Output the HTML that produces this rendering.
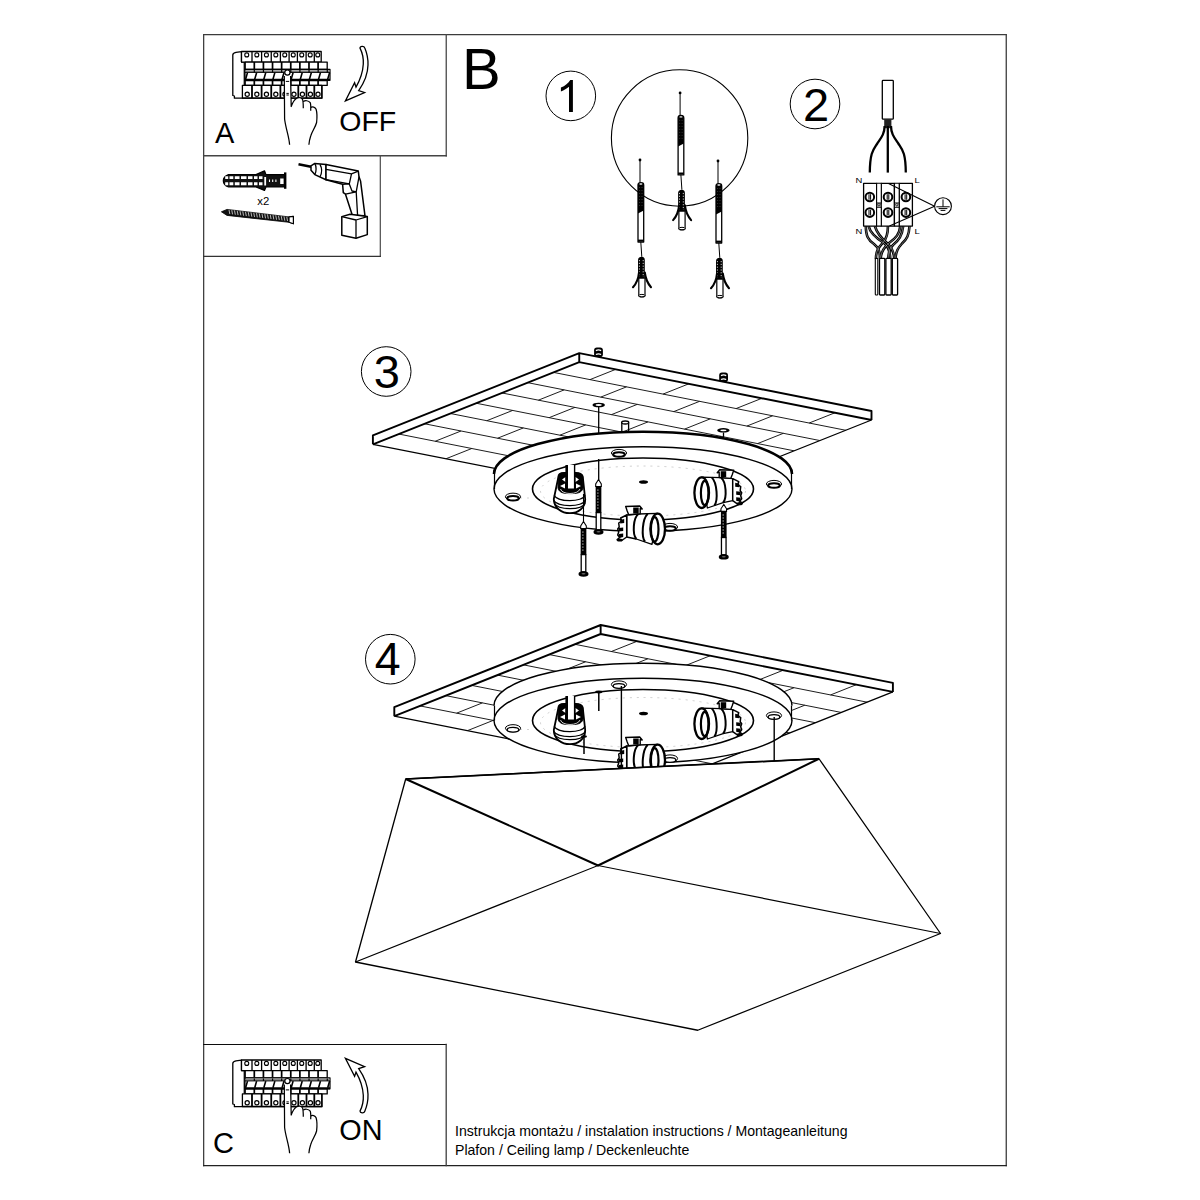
<!DOCTYPE html>
<html><head><meta charset="utf-8"><title>Instrukcja montażu</title>
<style>
html,body{margin:0;padding:0;background:#fff;width:1200px;height:1200px;overflow:hidden}
svg{display:block;position:absolute;left:0;top:0}
text{font-family:"Liberation Sans",sans-serif;fill:#000}
</style></head><body>
<svg width="1200" height="1200" viewBox="0 0 1200 1200">
<g fill="none" stroke-linecap="square">
<path d="M203.65,34.6V1165.6" stroke="#404040" stroke-width="1.3"/>
<path d="M203.65,34.65H1006.3" stroke="#3c3c3c" stroke-width="1.3"/>
<path d="M1006.27,34.65V1165.6" stroke="#444" stroke-width="1.35"/>
<path d="M203.65,1165.62H1006.27" stroke="#222" stroke-width="1.25"/>
<path d="M446.24,34.65V155.8" stroke="#484848" stroke-width="1.3"/>
<path d="M203.65,155.8H446.24" stroke="#444" stroke-width="1.4"/>
<path d="M380.3,155.8V256.4" stroke="#4a4a4a" stroke-width="1.2"/>
<path d="M203.65,256.4H380.3" stroke="#333" stroke-width="1.23"/>
<path d="M203.65,1044.5H446.2" stroke="#0c0c0c" stroke-width="1"/>
<path d="M446.2,1044.5V1165.6" stroke="#404040" stroke-width="1.32"/>
</g>
<text x="462" y="89.3" font-size="58">B</text>
<text x="214.9" y="142.9" font-size="29">A</text>
<text x="339.3" y="131" font-size="28.5">OFF</text>
<text x="213" y="1153" font-size="29">C</text>
<text x="339.3" y="1139.8" font-size="28.8">ON</text>
<text x="455" y="1135.8" font-size="14.1" fill="#111">Instrukcja montażu / instalation instructions / Montageanleitung</text>
<text x="455" y="1154.8" font-size="14.1" fill="#111">Plafon / Ceiling lamp / Deckenleuchte</text>
<g fill="none" stroke="#000" stroke-width="1">
<circle cx="570.8" cy="95.9" r="24.8"/>
<circle cx="815" cy="104" r="24.8"/>
<circle cx="386.2" cy="371.5" r="24.8"/>
<circle cx="390.3" cy="659.2" r="24.8"/>
</g>
<path d="M569,111.9 L572.9,111.9 L572.9,80 L570.3,80 C568.5,83 565,86 560.9,87.6 L560.9,91.5 C564,90.3 567,88.6 569,86.8 Z" fill="#000"/>
<text x="816.1" y="120.5" font-size="47" text-anchor="middle">2</text>
<text x="386.9" y="387.9" font-size="47" text-anchor="middle">3</text>
<text x="387.8" y="674.5" font-size="46.5" text-anchor="middle">4</text>
<g transform="translate(0 0)" stroke="#000" fill="#fff" stroke-linejoin="round">
<path d="M241.5,51.6 L236,52.4 C234,52.8 232.8,53.6 232.8,55 L232.8,95.5 L234.4,96 L234.4,98.2 L322,98.2 L322,85.4 L245,85.4 L245,62 L241.5,62 Z" stroke-width="1.3"/>
<path d="M244.2,62.5 V85" stroke-width="1.1" fill="none"/>
<rect x="241.5" y="51.5" width="79.7" height="10.6" stroke-width="1.3"/>
<path d="M252,51.5V62.1M261.6,51.5V62.1M271.25,51.5V62.1M280.4,51.5V62.1M289.1,51.5V62.1M297.4,51.5V62.1M306.1,51.5V62.1M314.3,51.5V62.1" stroke-width="1.3" fill="none"/>
<circle cx="246.75" cy="54.9" r="2" stroke-width="1.1"/>
<circle cx="256.8" cy="54.9" r="2" stroke-width="1.1"/>
<circle cx="266.43" cy="54.9" r="2" stroke-width="1.1"/>
<circle cx="275.82" cy="54.9" r="2" stroke-width="1.1"/>
<circle cx="284.75" cy="54.9" r="2" stroke-width="1.1"/>
<circle cx="293.25" cy="54.9" r="2" stroke-width="1.1"/>
<circle cx="301.75" cy="54.9" r="2" stroke-width="1.1"/>
<circle cx="310.2" cy="54.9" r="2" stroke-width="1.1"/>
<circle cx="317.75" cy="54.9" r="2" stroke-width="1.1"/>
<rect x="245.2" y="62.1" width="82" height="7.2" stroke-width="1.3"/>
<path d="M254.31,62.1V69.3M263.42,62.1V69.3M272.53,62.1V69.3M281.64,62.1V69.3M290.76,62.1V69.3M299.87,62.1V69.3M308.98,62.1V69.3M318.09,62.1V69.3" stroke-width="1.7" fill="none"/>
<rect x="245" y="69.3" width="85" height="11" stroke-width="1.2"/>
<rect x="246" y="70.3" width="83.5" height="1.9" fill="#888" stroke="none"/>
<path d="M245,72.4 H330" stroke-width="1" fill="none"/>
<path d="M245,79.7 H330" stroke-width="1.9" fill="none"/>
<path d="M245.6,79.2 L247.5,72.6 M254.72,79.2 L256.62,72.6 M263.84,79.2 L265.74,72.6 M272.96,79.2 L274.86,72.6 M282.08,79.2 L283.98,72.6 M291.2,79.2 L293.1,72.6 M300.32,79.2 L302.22,72.6 M309.44,79.2 L311.34,72.6 M318.56,79.2 L320.46,72.6 M327.68,79.2 L329.58,72.6 " stroke-width="1.6" fill="none"/>
<path d="M254.32,70V72.4M263.44,70V72.4M272.56,70V72.4M281.68,70V72.4M290.8,70V72.4M299.92,70V72.4M309.04,70V72.4M318.16,70V72.4M327.28,70V72.4" stroke-width="1.2" fill="none"/>
<rect x="245.2" y="80.5" width="82" height="4.9" stroke-width="1.3"/>
<path d="M254.31,80.5V85.4M263.42,80.5V85.4M272.53,80.5V85.4M281.64,80.5V85.4M290.76,80.5V85.4M299.87,80.5V85.4M308.98,80.5V85.4M318.09,80.5V85.4" stroke-width="1.7" fill="none"/>
<rect x="242.4" y="85.4" width="79.3" height="12.6" stroke-width="1.3"/>
<path d="M252,85.4V98M261.6,85.4V98M271.25,85.4V98M280.4,85.4V98M289.6,85.4V98M298.3,85.4V98M306.5,85.4V98M314.3,85.4V98" stroke-width="1.8" fill="none"/>
<circle cx="247.2" cy="94.2" r="2.1" stroke-width="1.2"/>
<circle cx="256.8" cy="94.2" r="2.1" stroke-width="1.2"/>
<circle cx="266.43" cy="94.2" r="2.1" stroke-width="1.2"/>
<circle cx="275.82" cy="94.2" r="2.1" stroke-width="1.2"/>
<circle cx="285" cy="94.2" r="2.1" stroke-width="1.2"/>
<circle cx="293.95" cy="94.2" r="2.1" stroke-width="1.2"/>
<circle cx="302.4" cy="94.2" r="2.1" stroke-width="1.2"/>
<circle cx="310.4" cy="94.2" r="2.1" stroke-width="1.2"/>
<circle cx="318" cy="94.2" r="2.1" stroke-width="1.2"/>
<path d="M289.6,144.8 C289.2,137 285.6,128 284.6,119 L284.3,76 L290.6,76 L291.2,106.5 C292.5,103 294.3,100 296.3,98.6 C298.4,97.2 301.6,97.4 302.6,99.6 C304.2,100.6 308.4,100.3 310.2,102.6 C311,104 311,105.8 310.9,107.4 C312.4,106.4 315.2,107 316.1,109.3 C317.2,113 317,119 316.6,122.5 C315.5,127 312.2,131 310.7,136 C309.7,139 309.1,142 308.9,144.8 L289.6,144.8 Z" stroke="none" fill="#fff"/>
<path d="M289.6,144.8 C289.2,137 285.6,128 284.6,119 L284.3,76 M290.6,76 L291.2,106.5 C292.5,103 294.3,100 296.3,98.6 C298.4,97.2 301.6,97.4 302.6,99.6 C303.2,101.5 303.3,105 303.3,108.3 M303.5,101.6 C304.8,100.3 308.4,100.3 310.2,102.6 C311,104.5 310.8,108 310.7,110.8 M310.9,107.4 C312.4,106.4 315.2,107 316.1,109.3 C317.2,113 317,119 316.6,122.5 C315.5,127 312.2,131 310.7,136 C309.7,139 309.1,142 308.9,144.8" stroke-width="1.25" fill="none"/>
<path d="M285.8,81.4 H289.2 M286.4,93.4 H288.8 M286.4,95 H288.8" stroke-width="1" fill="none"/>
<circle cx="287.4" cy="72.6" r="2.6" stroke-width="1.2"/>
</g>
<g transform="translate(0 1008.5)" stroke="#000" fill="#fff" stroke-linejoin="round">
<path d="M241.5,51.6 L236,52.4 C234,52.8 232.8,53.6 232.8,55 L232.8,95.5 L234.4,96 L234.4,98.2 L322,98.2 L322,85.4 L245,85.4 L245,62 L241.5,62 Z" stroke-width="1.3"/>
<path d="M244.2,62.5 V85" stroke-width="1.1" fill="none"/>
<rect x="241.5" y="51.5" width="79.7" height="10.6" stroke-width="1.3"/>
<path d="M252,51.5V62.1M261.6,51.5V62.1M271.25,51.5V62.1M280.4,51.5V62.1M289.1,51.5V62.1M297.4,51.5V62.1M306.1,51.5V62.1M314.3,51.5V62.1" stroke-width="1.3" fill="none"/>
<circle cx="246.75" cy="54.9" r="2" stroke-width="1.1"/>
<circle cx="256.8" cy="54.9" r="2" stroke-width="1.1"/>
<circle cx="266.43" cy="54.9" r="2" stroke-width="1.1"/>
<circle cx="275.82" cy="54.9" r="2" stroke-width="1.1"/>
<circle cx="284.75" cy="54.9" r="2" stroke-width="1.1"/>
<circle cx="293.25" cy="54.9" r="2" stroke-width="1.1"/>
<circle cx="301.75" cy="54.9" r="2" stroke-width="1.1"/>
<circle cx="310.2" cy="54.9" r="2" stroke-width="1.1"/>
<circle cx="317.75" cy="54.9" r="2" stroke-width="1.1"/>
<rect x="245.2" y="62.1" width="82" height="7.2" stroke-width="1.3"/>
<path d="M254.31,62.1V69.3M263.42,62.1V69.3M272.53,62.1V69.3M281.64,62.1V69.3M290.76,62.1V69.3M299.87,62.1V69.3M308.98,62.1V69.3M318.09,62.1V69.3" stroke-width="1.7" fill="none"/>
<rect x="245" y="69.3" width="85" height="11" stroke-width="1.2"/>
<rect x="246" y="70.3" width="83.5" height="1.9" fill="#888" stroke="none"/>
<path d="M245,72.4 H330" stroke-width="1" fill="none"/>
<path d="M245,79.7 H330" stroke-width="1.9" fill="none"/>
<path d="M245.6,79.2 L247.5,72.6 M254.72,79.2 L256.62,72.6 M263.84,79.2 L265.74,72.6 M272.96,79.2 L274.86,72.6 M282.08,79.2 L283.98,72.6 M291.2,79.2 L293.1,72.6 M300.32,79.2 L302.22,72.6 M309.44,79.2 L311.34,72.6 M318.56,79.2 L320.46,72.6 M327.68,79.2 L329.58,72.6 " stroke-width="1.6" fill="none"/>
<path d="M254.32,70V72.4M263.44,70V72.4M272.56,70V72.4M281.68,70V72.4M290.8,70V72.4M299.92,70V72.4M309.04,70V72.4M318.16,70V72.4M327.28,70V72.4" stroke-width="1.2" fill="none"/>
<rect x="245.2" y="80.5" width="82" height="4.9" stroke-width="1.3"/>
<path d="M254.31,80.5V85.4M263.42,80.5V85.4M272.53,80.5V85.4M281.64,80.5V85.4M290.76,80.5V85.4M299.87,80.5V85.4M308.98,80.5V85.4M318.09,80.5V85.4" stroke-width="1.7" fill="none"/>
<rect x="242.4" y="85.4" width="79.3" height="12.6" stroke-width="1.3"/>
<path d="M252,85.4V98M261.6,85.4V98M271.25,85.4V98M280.4,85.4V98M289.6,85.4V98M298.3,85.4V98M306.5,85.4V98M314.3,85.4V98" stroke-width="1.8" fill="none"/>
<circle cx="247.2" cy="94.2" r="2.1" stroke-width="1.2"/>
<circle cx="256.8" cy="94.2" r="2.1" stroke-width="1.2"/>
<circle cx="266.43" cy="94.2" r="2.1" stroke-width="1.2"/>
<circle cx="275.82" cy="94.2" r="2.1" stroke-width="1.2"/>
<circle cx="285" cy="94.2" r="2.1" stroke-width="1.2"/>
<circle cx="293.95" cy="94.2" r="2.1" stroke-width="1.2"/>
<circle cx="302.4" cy="94.2" r="2.1" stroke-width="1.2"/>
<circle cx="310.4" cy="94.2" r="2.1" stroke-width="1.2"/>
<circle cx="318" cy="94.2" r="2.1" stroke-width="1.2"/>
<path d="M289.6,144.8 C289.2,137 285.6,128 284.6,119 L284.3,76 L290.6,76 L291.2,106.5 C292.5,103 294.3,100 296.3,98.6 C298.4,97.2 301.6,97.4 302.6,99.6 C304.2,100.6 308.4,100.3 310.2,102.6 C311,104 311,105.8 310.9,107.4 C312.4,106.4 315.2,107 316.1,109.3 C317.2,113 317,119 316.6,122.5 C315.5,127 312.2,131 310.7,136 C309.7,139 309.1,142 308.9,144.8 L289.6,144.8 Z" stroke="none" fill="#fff"/>
<path d="M289.6,144.8 C289.2,137 285.6,128 284.6,119 L284.3,76 M290.6,76 L291.2,106.5 C292.5,103 294.3,100 296.3,98.6 C298.4,97.2 301.6,97.4 302.6,99.6 C303.2,101.5 303.3,105 303.3,108.3 M303.5,101.6 C304.8,100.3 308.4,100.3 310.2,102.6 C311,104.5 310.8,108 310.7,110.8 M310.9,107.4 C312.4,106.4 315.2,107 316.1,109.3 C317.2,113 317,119 316.6,122.5 C315.5,127 312.2,131 310.7,136 C309.7,139 309.1,142 308.9,144.8" stroke-width="1.25" fill="none"/>
<path d="M285.8,81.4 H289.2 M286.4,93.4 H288.8 M286.4,95 H288.8" stroke-width="1" fill="none"/>
<circle cx="287.4" cy="72.6" r="2.6" stroke-width="1.2"/>
</g>
<path d="M360,48.1 C360,46 364,45.5 364.8,48 C366.5,52 368.2,58 368,65 C367.8,74 364,83 358.7,90.6 L364.6,92.5 L345.4,100.9 L354.6,82.8 L356,87.1 C359.5,81 362.8,73 363.3,64 C363.6,58 362,52 360,48.1 Z" fill="#fff" stroke="#000" stroke-width="1.3" stroke-linejoin="miter"/>
<path d="M360,48.1 C360,46 364,45.5 364.8,48 C366.5,52 368.2,58 368,65 C367.8,74 364,83 358.7,90.6 L364.6,92.5 L345.4,100.9 L354.6,82.8 L356,87.1 C359.5,81 362.8,73 363.3,64 C363.6,58 362,52 360,48.1 Z" transform="translate(0 1159.2) scale(1 -1)" fill="#fff" stroke="#000" stroke-width="1.3"/>
<g stroke="#000" stroke-linejoin="round">
<path d="M223.3,180.8 C223.3,178 225,175.8 228.5,174.6 L256,174.6 L264.5,170.8 L266,174.6 L284.8,174.6 L284.8,187 L266,187 L264.5,190.4 L256,187 L228.5,187 C225,185.8 223.3,183.6 223.3,180.8 Z" fill="#111" stroke-width="1.2"/>
<path d="M225.2,176.3 H228.2 V178.9 H225.2 Z M225.2,182.2 H228.2 V185.3 H225.2 Z M229.5,176.3 H233.3 V178.9 H229.5 Z M229.5,182.2 H233.3 V185.3 H229.5 Z M234.8,176.3 H239.5 V178.9 H234.8 Z M234.8,182.2 H239.5 V185.3 H234.8 Z M241,176.3 H246.5 V178.9 H241 Z M241,182.2 H246.5 V185.3 H241 Z M248,176.3 H252.5 V178.9 H248 Z M248,182.2 H252.5 V185.3 H248 Z M254,176.3 H257.5 V178.9 H254 Z M254,182.2 H257.5 V185.3 H254 Z M259,176.3 H262.5 V178.9 H259 Z M259,182.2 H262.5 V185.3 H259 Z " fill="#fff" stroke="none"/>
<path d="M264.3,177 H266.1 V185.6 H264.3 Z M280.2,178.5 H283.6 V184 H280.2 Z" fill="#fff" stroke="none"/>
<path d="M269.5,179.5 V182 M272.7,179.5 V182 M275.9,179.5 V182" stroke="#fff" stroke-width="1.1" fill="none"/>
<path d="M285.2,172.4 V188.8" stroke-width="2.4" fill="none"/>
<path d="M221.4,211.8 L227,209.4 L289,216.9 L293.4,216.3 L293.4,223.8 L289,222.3 L227,215.4 Z" fill="#111" stroke-width="0.8"/>
<path d="M289,216.9 L293.4,216.3 L293.4,223.8 L289,222.3 Z" fill="#fff" stroke-width="1.2"/>
<path d="M229,209.84 l0.8,4.2 M231.75,210.17 l0.8,4.2 M234.5,210.51 l0.8,4.2 M237.25,210.84 l0.8,4.2 M240,211.17 l0.8,4.2 M242.75,211.51 l0.8,4.2 M245.5,211.84 l0.8,4.2 M248.25,212.17 l0.8,4.2 M251,212.5 l0.8,4.2 M253.75,212.84 l0.8,4.2 M256.5,213.17 l0.8,4.2 M259.25,213.5 l0.8,4.2 M262,213.83 l0.8,4.2 M264.75,214.17 l0.8,4.2 M267.5,214.5 l0.8,4.2 M270.25,214.83 l0.8,4.2 M273,215.17 l0.8,4.2 M275.75,215.5 l0.8,4.2 M278.5,215.83 l0.8,4.2 M281.25,216.16 l0.8,4.2 M284,216.5 l0.8,4.2 M286.75,216.83 l0.8,4.2 " stroke="#fff" stroke-width="0.7" fill="none"/>
</g>
<text x="257.3" y="204.9" font-size="11.3" fill="#222">x2</text>
<g stroke="#000" fill="#fff" stroke-linejoin="round" stroke-width="1.5">
<path d="M298.5,164.3 L311,166.8" stroke-width="2.6" fill="none"/>
<path d="M311,165.8 L314.8,163.4 L326,164.6 L326,179.7 L314.8,174.6 L311,170.2 Z"/>
<path d="M314.8,163.6 C316.5,166 316.5,172 314.8,174.6 M320,164.4 C322,168 322,173 320,176.8" fill="none" stroke-width="1.3"/>
<path d="M326,164.6 L358.3,171.1 L359,176.8 L360.6,181.3 L365,215.8 L352.3,215.3 L345.5,194.2 L343.3,192.6 L342.6,184.3 L326,179.7 Z"/>
<path d="M326,169.3 L351.5,173.8 L358.3,171.1 M351.5,173.8 L349.3,183.9 L326,179.7 M349.3,183.9 L352,191 L356.2,191.8 L359,176.8 M345.5,194.2 L356.2,191.8 L357.6,215.6 M342.6,184.3 L349.3,183.9" fill="none" stroke-width="1.3"/>
<path d="M341.8,216.6 L350,214.3 L367.3,216.6 L367.3,234.6 L356,238.3 L341.8,235.3 Z"/>
<path d="M341.8,216.6 L356,220 L367.3,216.6 M356,220 V238.3" fill="none" stroke-width="1.3"/>
</g>
<circle cx="679.6" cy="138" r="68.2" fill="none" stroke="#000" stroke-width="1.1"/>
<g transform="translate(680.1 92.9)" stroke="#000" stroke-linejoin="round">
<circle cx="0" cy="0" r="1.4" fill="#000" stroke="none"/>
<path d="M0,0 V23" stroke-width="1" fill="none"/>
<path d="M-2,25 C-2,23 -1.2,22.6 0.8,22.6 C2.8,22.6 3.7,23 3.7,25 L3.7,82 L-2,82 Z" fill="#fff" stroke-width="1.3"/>
<path d="M-2,24.5 C-2,23 -1,22.7 0.8,22.7 C2.6,22.7 3.7,23 3.7,24.5 L3.7,50.5 L-2,53.5 Z" fill="#000" stroke="none"/>
<path d="M-2,80.6 H3.7" stroke-width="2" fill="none"/>
<ellipse cx="0.85" cy="24" rx="1.6" ry="0.7" fill="#fff" stroke="none"/>
<path d="M-0.4,27 V48 M2,27 V48" stroke="#555" stroke-width="0.6" stroke-dasharray="1 2" fill="none"/>
<path d="M0.8,82 L1.8,96.8" stroke-width="1" fill="none"/>
<path d="M-1.2,118 L-1.2,135.5 C-1.2,137.5 5,137.5 5,135.5 L5,118 Z" fill="#fff" stroke-width="1.2"/>
<ellipse cx="1.9" cy="135.6" rx="3" ry="1.2" fill="#fff" stroke-width="1"/>
<path d="M-2,118.5 L-2,100 C-2,97.5 0,96.8 1.6,96.8 C3.4,96.8 4.8,97.5 4.8,100 L4.8,118.5 Z" fill="#000" stroke="none"/>
<path d="M-0.6,100 V117 M3.2,100 V117" stroke="#fff" stroke-width="0.8" stroke-dasharray="1.2 1.6" fill="none"/>
<path d="M-1,112.5 C-1.6,119 -4,124 -7,127.2 M4.8,112.5 C5.6,119 8.2,124 11,127.2" fill="none" stroke-width="2.1" stroke-linecap="round"/>
</g>
<g transform="translate(640 160)" stroke="#000" stroke-linejoin="round">
<circle cx="0" cy="0" r="1.4" fill="#000" stroke="none"/>
<path d="M0,0 V23" stroke-width="1" fill="none"/>
<path d="M-2,25 C-2,23 -1.2,22.6 0.8,22.6 C2.8,22.6 3.7,23 3.7,25 L3.7,82 L-2,82 Z" fill="#fff" stroke-width="1.3"/>
<path d="M-2,24.5 C-2,23 -1,22.7 0.8,22.7 C2.6,22.7 3.7,23 3.7,24.5 L3.7,50.5 L-2,53.5 Z" fill="#000" stroke="none"/>
<path d="M-2,80.6 H3.7" stroke-width="2" fill="none"/>
<ellipse cx="0.85" cy="24" rx="1.6" ry="0.7" fill="#fff" stroke="none"/>
<path d="M-0.4,27 V48 M2,27 V48" stroke="#555" stroke-width="0.6" stroke-dasharray="1 2" fill="none"/>
<path d="M0.8,82 L1.8,96.8" stroke-width="1" fill="none"/>
<path d="M-1.2,118 L-1.2,135.5 C-1.2,137.5 5,137.5 5,135.5 L5,118 Z" fill="#fff" stroke-width="1.2"/>
<ellipse cx="1.9" cy="135.6" rx="3" ry="1.2" fill="#fff" stroke-width="1"/>
<path d="M-2,118.5 L-2,100 C-2,97.5 0,96.8 1.6,96.8 C3.4,96.8 4.8,97.5 4.8,100 L4.8,118.5 Z" fill="#000" stroke="none"/>
<path d="M-0.6,100 V117 M3.2,100 V117" stroke="#fff" stroke-width="0.8" stroke-dasharray="1.2 1.6" fill="none"/>
<path d="M-1,112.5 C-1.6,119 -4,124 -7,127.2 M4.8,112.5 C5.6,119 8.2,124 11,127.2" fill="none" stroke-width="2.1" stroke-linecap="round"/>
</g>
<g transform="translate(718 161)" stroke="#000" stroke-linejoin="round">
<circle cx="0" cy="0" r="1.4" fill="#000" stroke="none"/>
<path d="M0,0 V23" stroke-width="1" fill="none"/>
<path d="M-2,25 C-2,23 -1.2,22.6 0.8,22.6 C2.8,22.6 3.7,23 3.7,25 L3.7,82 L-2,82 Z" fill="#fff" stroke-width="1.3"/>
<path d="M-2,24.5 C-2,23 -1,22.7 0.8,22.7 C2.6,22.7 3.7,23 3.7,24.5 L3.7,50.5 L-2,53.5 Z" fill="#000" stroke="none"/>
<path d="M-2,80.6 H3.7" stroke-width="2" fill="none"/>
<ellipse cx="0.85" cy="24" rx="1.6" ry="0.7" fill="#fff" stroke="none"/>
<path d="M-0.4,27 V48 M2,27 V48" stroke="#555" stroke-width="0.6" stroke-dasharray="1 2" fill="none"/>
<path d="M0.8,82 L1.8,96.8" stroke-width="1" fill="none"/>
<path d="M-1.2,118 L-1.2,135.5 C-1.2,137.5 5,137.5 5,135.5 L5,118 Z" fill="#fff" stroke-width="1.2"/>
<ellipse cx="1.9" cy="135.6" rx="3" ry="1.2" fill="#fff" stroke-width="1"/>
<path d="M-2,118.5 L-2,100 C-2,97.5 0,96.8 1.6,96.8 C3.4,96.8 4.8,97.5 4.8,100 L4.8,118.5 Z" fill="#000" stroke="none"/>
<path d="M-0.6,100 V117 M3.2,100 V117" stroke="#fff" stroke-width="0.8" stroke-dasharray="1.2 1.6" fill="none"/>
<path d="M-1,112.5 C-1.6,119 -4,124 -7,127.2 M4.8,112.5 C5.6,119 8.2,124 11,127.2" fill="none" stroke-width="2.1" stroke-linecap="round"/>
</g>
<g stroke="#000" stroke-linejoin="round" fill="none">
<rect x="882.3" y="80.4" width="11" height="38.8" rx="0.8" fill="#fff" stroke-width="1.3"/>
<rect x="884.2" y="119.2" width="7.2" height="9" fill="#222" stroke="none"/>
<path d="M884.6,126 C884.6,134 881,138 877,144 C873,150 870,153 869.8,172.6" stroke-width="2.3"/>
<path d="M887.8,126 V172.6" stroke-width="2.3"/>
<path d="M891,126 C891,134 894.6,138 898.6,144 C902.6,150 905.6,153 905.8,172.6" stroke-width="2.3"/>
<path d="M865.8,226 C866,236 868,240 874,244 C879,248 880,252 879.9,259" stroke="#000" stroke-width="2.6"/>
<path d="M868.6,226 C870,233 876,238 884,243 C889,247 890,252 890.3,259" stroke="#000" stroke-width="2.6"/>
<path d="M874.8,226 C877,233 881,238 887,243 C892,248 894,252 894.3,259" stroke="#000" stroke-width="2.6"/>
<path d="M887.9,226 C888,233 887,238 883,242.5 C879,247 876,250 875.9,259" stroke="#000" stroke-width="2.6"/>
<path d="M900.3,226 C899.5,234 896,238 889,243 C885,246.5 881,251 880.6,259" stroke="#000" stroke-width="2.6"/>
<path d="M903.2,226 C902,236 899,240 893,245 C889,249 888.3,253 888.3,259" stroke="#000" stroke-width="2.6"/>
<path d="M909.5,226 C909,235 907,239 902,243.5 C898,248 896,251 895.4,259" stroke="#000" stroke-width="2.6"/>
<path d="M865.8,226 C866,236 868,240 874,244 C879,248 880,252 879.9,259" stroke="#fff" stroke-width="0.45" opacity="0.9"/>
<path d="M868.6,226 C870,233 876,238 884,243 C889,247 890,252 890.3,259" stroke="#fff" stroke-width="0.45" opacity="0.9"/>
<path d="M874.8,226 C877,233 881,238 887,243 C892,248 894,252 894.3,259" stroke="#fff" stroke-width="0.45" opacity="0.9"/>
<path d="M887.9,226 C888,233 887,238 883,242.5 C879,247 876,250 875.9,259" stroke="#fff" stroke-width="0.45" opacity="0.9"/>
<path d="M900.3,226 C899.5,234 896,238 889,243 C885,246.5 881,251 880.6,259" stroke="#fff" stroke-width="0.45" opacity="0.9"/>
<path d="M903.2,226 C902,236 899,240 893,245 C889,249 888.3,253 888.3,259" stroke="#fff" stroke-width="0.45" opacity="0.9"/>
<path d="M909.5,226 C909,235 907,239 902,243.5 C898,248 896,251 895.4,259" stroke="#fff" stroke-width="0.45" opacity="0.9"/>
<rect x="875.3" y="258.4" width="2.5" height="36.6" rx="0.8" fill="#fff" stroke-width="1.1"/>
<rect x="879.5" y="258.4" width="5.3" height="36.6" rx="0.8" fill="#fff" stroke-width="1.3"/>
<rect x="885.9" y="258.4" width="5.3" height="36.6" rx="0.8" fill="#fff" stroke-width="1.3"/>
<rect x="892.3" y="258.4" width="5.3" height="36.6" rx="0.8" fill="#fff" stroke-width="1.3"/>
<rect x="863.6" y="183.3" width="13.1" height="42.8" fill="#fff" stroke-width="1.3"/>
<rect x="881.2" y="183.3" width="13.1" height="42.8" fill="#fff" stroke-width="1.3"/>
<rect x="899.3" y="183.3" width="13.1" height="42.8" fill="#fff" stroke-width="1.3"/>
<rect x="876.6" y="183.3" width="4.7" height="19.7" fill="#fff" stroke-width="1.1"/>
<rect x="876.6" y="207.2" width="4.7" height="18.9" fill="#fff" stroke-width="1.1"/>
<circle cx="878.95" cy="204.8" r="1.2" fill="#fff" stroke-width="0.9"/>
<rect x="894.5" y="183.3" width="4.7" height="19.7" fill="#fff" stroke-width="1.1"/>
<rect x="894.5" y="207.2" width="4.7" height="18.9" fill="#fff" stroke-width="1.1"/>
<circle cx="896.85" cy="204.8" r="1.2" fill="#fff" stroke-width="0.9"/>
<circle cx="869.8" cy="197" r="4.3" fill="#fff" stroke-width="2"/>
<path d="M869,194.2 v5.6 M870.6,194.2 v5.6" stroke-width="1" />
<circle cx="869.8" cy="212.6" r="4.3" fill="#fff" stroke-width="2"/>
<path d="M869,209.8 v5.6 M870.6,209.8 v5.6" stroke-width="1" />
<circle cx="888" cy="197" r="4.3" fill="#fff" stroke-width="2"/>
<path d="M887.2,194.2 v5.6 M888.8,194.2 v5.6" stroke-width="1" />
<circle cx="888" cy="212.6" r="4.3" fill="#fff" stroke-width="2"/>
<path d="M887.2,209.8 v5.6 M888.8,209.8 v5.6" stroke-width="1" />
<circle cx="905.9" cy="197" r="4.3" fill="#fff" stroke-width="2"/>
<path d="M905.1,194.2 v5.6 M906.7,194.2 v5.6" stroke-width="1" />
<circle cx="905.9" cy="212.6" r="4.3" fill="#fff" stroke-width="2"/>
<path d="M905.1,209.8 v5.6 M906.7,209.8 v5.6" stroke-width="1" />
<path d="M888.5,183.5 L934.6,206.2 L889.4,226" stroke-width="1.1"/>
<circle cx="943" cy="206.2" r="8.4" fill="#fff" stroke-width="1.1"/>
<path d="M943,199.4 V206.8 M936.3,206.8 H949.7 M938.6,208.6 H947.4 M940.6,210.4 H945.4" stroke-width="1"/>
</g>
<g font-size="8" fill="#000">
<text transform="translate(855.6 182.5) scale(1.18 1)" x="0" y="0">N</text>
<text transform="translate(914.6 182.5) scale(1.18 1)" x="0" y="0">L</text>
<text transform="translate(855.6 234.3) scale(1.18 1)" x="0" y="0">N</text>
<text transform="translate(914.6 234.3) scale(1.18 1)" x="0" y="0">L</text>
</g>
<clipPath id="pc3"><polygon points="372.9,444.3 579.25,362.1 871.5,420 665.15,502.2"/></clipPath>
<polygon points="372.9,435.3 579.25,353.1 871.5,411 871.5,420 665.15,502.2 372.9,444.3" fill="#fff" stroke="none"/>
<path d="M392.85 432.87L696.79 493.08M418.64 422.59L722.58 482.81M444.44 412.32L748.38 472.53M470.23 402.04L774.17 462.26M496.02 391.77L799.96 451.98M521.82 381.49L825.76 441.71M547.61 371.22L851.55 431.43M445.96 458.77L471.76 448.5M519.02 473.25L544.82 462.98M592.09 487.73L617.88 477.45M435.22 441.26L461.02 430.99M508.29 455.74L534.08 445.46M581.35 470.21L607.14 459.94M654.41 484.69L680.21 474.41M497.55 438.22L523.34 427.95M570.61 452.7L596.41 442.43M643.67 467.18L669.47 456.9M486.81 420.71L512.61 410.44M559.88 435.19L585.67 424.91M632.94 449.66L658.73 439.39M706 464.14L731.79 453.86M549.14 417.67L574.93 407.4M622.2 432.15L647.99 421.88M695.26 446.62L721.06 436.35M538.4 400.16L564.19 389.89M611.46 414.64L637.26 404.36M684.52 429.11L710.32 418.84M757.59 443.59L783.38 433.31M600.73 397.12L626.52 386.85M673.79 411.6L699.58 401.33M746.85 426.08L772.64 415.8M589.99 379.61L615.78 369.34M663.05 394.09L688.84 383.81M736.11 408.56L761.91 398.29M809.17 423.04L834.97 412.76" clip-path="url(#pc3)" fill="none" stroke="#111" stroke-width="0.95"/>
<path d="M372.9,444.3 L665.15,502.2 L871.5,420" fill="none" stroke="#000" stroke-width="1.25"/>
<path d="M372.9,444.3 L372.9,435.3 L579.25,353.1 L871.5,411 L871.5,420 M372.9,444.3 L579.25,362.1 L871.5,420 M579.25,353.1 L579.25,362.1" fill="none" stroke="#000" stroke-width="1.9" stroke-linejoin="round"/>
<path d="M494 474 A149 42.3 0 0 1 792 474 L792 489 A149 42.3 0 0 1 494 489 Z" fill="#fff" stroke="none"/>
<path d="M494 474 A149 42.3 0 0 1 792 474" fill="none" stroke="#000" stroke-width="2.6"/>
<path d="M494.5 474V489 M791.5 474V489" fill="none" stroke="#000" stroke-width="1.2"/>
<ellipse cx="643" cy="489" rx="149" ry="42.3" fill="none" stroke="#000" stroke-width="1.4"/>
<ellipse cx="643" cy="489" rx="110.5" ry="31" fill="none" stroke="#000" stroke-width="1.6"/>
<ellipse cx="643" cy="491" rx="102.5" ry="25" fill="none" stroke="#b8b8b8" stroke-width="0.7" stroke-dasharray="2 5"/>
<path d="M513 498H532.5" stroke="#c0c0c0" stroke-width="0.7" stroke-dasharray="2 5"/>
<ellipse cx="643.5" cy="482" rx="4.5" ry="1.8" fill="#000"/>
<ellipse cx="513" cy="496.75" rx="7.6" ry="3.6" fill="#fff" stroke="#000" stroke-width="1"/>
<ellipse cx="513" cy="498.25" rx="5.8" ry="2.3" fill="#fff" stroke="#000" stroke-width="2"/>
<ellipse cx="774" cy="484" rx="7.6" ry="3.6" fill="#fff" stroke="#000" stroke-width="1"/>
<ellipse cx="774" cy="485.5" rx="5.8" ry="2.3" fill="#fff" stroke="#000" stroke-width="2"/>
<ellipse cx="619" cy="453" rx="7.6" ry="3.6" fill="#fff" stroke="#000" stroke-width="1"/>
<ellipse cx="619" cy="454.5" rx="5.8" ry="2.3" fill="#fff" stroke="#000" stroke-width="2"/>
<ellipse cx="670" cy="527" rx="7.6" ry="3.6" fill="#fff" stroke="#000" stroke-width="1"/>
<ellipse cx="670" cy="528.5" rx="5.8" ry="2.3" fill="#fff" stroke="#000" stroke-width="2"/>
<path d="M621.8,431 V423 M628.6,431 V423" stroke="#000" stroke-width="1.3" fill="none"/>
<ellipse cx="625.2" cy="422.5" rx="3.6" ry="1.5" fill="#fff" stroke="#000" stroke-width="1.3"/>
<ellipse cx="598.7" cy="405" rx="6.2" ry="2.3" fill="#000"/>
<ellipse cx="598.7" cy="405" rx="3.2" ry="0.9" fill="#fff"/>
<ellipse cx="723.4" cy="430.3" rx="6.2" ry="2.3" fill="#000"/>
<ellipse cx="723.4" cy="430.3" rx="3.2" ry="0.9" fill="#fff"/>
<path d="M598.7,407 V433.5 M598.7,459 V480 M723.5,432.5 V438" stroke="#000" stroke-width="1.3" fill="none"/>
<g transform="translate(570 492)" stroke="#000" stroke-linejoin="round">
<path d="M-11.6,-15 C-11.6,-18 -9,-19 -6,-19 L6,-19 C9,-19 12.8,-18 12.8,-15 L15.2,7 C15.4,16 8,21.2 -0.2,21.2 C-8,21.2 -16.4,16 -16.2,7 Z" fill="#fff" stroke-width="1.8"/>
<path d="M-15.8,3 C-13,10.5 13,10.5 15,3 M-16.2,8 C-13,15.5 13,15.5 15.2,8 M-15.8,11 C-12,18.5 12,18.5 15,11" fill="none" stroke-width="1.2"/>
<path d="M-11.6,-15 C-11.6,-18 -9,-19 -6,-19 L6,-19 C9,-19 12.8,-18 12.8,-15 L13,-4 C12,1.2 6,1.6 0.5,1.6 C-5,1.6 -11,1.2 -12,-4 Z" fill="#000" stroke-width="1"/>
<path d="M-8,-12.5 L-4.5,-15 L-4.5,-10 Z M9,-12.5 L5.5,-15 L5.5,-10 Z M-10,-6 L-5,-8.5 L-5,-3.5 Z M11,-6 L6,-8.5 L6,-3.5 Z" fill="#fff" stroke="none"/>
<path d="M-9.5,-3 C-8,3 8,3 10,-3" fill="none" stroke="#fff" stroke-width="0.8"/>
<rect x="-4.6" y="-27" width="9.9" height="25" fill="#000" stroke="none"/>
<rect x="-2" y="-27" width="5.9" height="23.5" fill="#fff" stroke="none"/>
</g>
<path d="M583.5,494 V522" stroke="#000" stroke-width="1.1" fill="none"/>
<g transform="translate(598.5 479.5)" stroke="#000">
<path d="M0,0 L2.8,4.4 L2.8,7 L-2.8,7 L-2.8,4.4 Z" fill="#fff" stroke-width="1.1"/>
<rect x="-2.85" y="6.9" width="5.7" height="26.2" fill="#000" stroke="none"/>
<path d="M-0.6,10 V31" stroke="#fff" stroke-width="0.9" stroke-dasharray="1.2 1.8" fill="none"/>
<rect x="-2.3" y="33.1" width="4.6" height="17.3" fill="#fff" stroke-width="1.3"/>
<ellipse cx="0" cy="52.5" rx="5" ry="2.7" fill="#000" stroke="none"/>
<ellipse cx="0" cy="52.3" rx="2" ry="0.8" fill="#666" stroke="none"/>
</g>
<g transform="translate(701.7 492.7) scale(-1 1)" stroke="#000" stroke-linejoin="round">
<path d="M0,-15.6 L-19.4,-15 L-31,-14 L-31,8 L-21.4,10 L-5.7,15.3 Z" fill="#fff" stroke-width="1.3"/>
<path d="M-31,-14 L-37,-11 L-36,-8 L-39,-6 L-38.5,-2 L-40,0 L-39,3 L-40,6 L-38,8.5 L-40.5,10.5 L-36,11.5 L-31,8 Z" fill="#fff" stroke-width="1.5"/>
<path d="M-37.5,-9 L-33.5,-10 L-33.5,-6 L-37.5,-5.5 Z M-39,-1 L-34.5,-1.5 L-34.5,2 L-39,2.5 Z M-39,5 L-34.5,4.5 L-34.5,8 L-38.5,9 Z" fill="#000" stroke="none"/>
<ellipse cx="-38" cy="11" rx="3" ry="1.6" fill="#000" stroke="none"/>
<path d="M-32,-22.5 L-18,-23 L-15.5,-20 L-17.5,-20.5 L-17.5,-15.2 L-29,-14.3 L-30.5,-18 Z" fill="#fff" stroke-width="1.4"/>
<rect x="-24.5" y="-21.5" width="5.5" height="6" fill="#000" stroke="none"/>
<path d="M-19.4,-15 C-24.5,-11 -25.5,5 -21.4,10" fill="none" stroke-width="2"/>
<path d="M-10,-15.3 C-15.5,-10 -16.5,8 -12.7,12.7" fill="none" stroke-width="2"/>
<ellipse cx="0" cy="0" rx="7.3" ry="15.3" fill="#fff" stroke-width="2.3"/>
<ellipse cx="-3" cy="0.3" rx="3.8" ry="12.2" fill="none" stroke-width="2.2"/>
</g>
<g transform="translate(657.7 529)" stroke="#000" stroke-linejoin="round">
<path d="M0,-15.6 L-19.4,-15 L-31,-14 L-31,8 L-21.4,10 L-5.7,15.3 Z" fill="#fff" stroke-width="1.3"/>
<path d="M-31,-14 L-37,-11 L-36,-8 L-39,-6 L-38.5,-2 L-40,0 L-39,3 L-40,6 L-38,8.5 L-40.5,10.5 L-36,11.5 L-31,8 Z" fill="#fff" stroke-width="1.5"/>
<path d="M-37.5,-9 L-33.5,-10 L-33.5,-6 L-37.5,-5.5 Z M-39,-1 L-34.5,-1.5 L-34.5,2 L-39,2.5 Z M-39,5 L-34.5,4.5 L-34.5,8 L-38.5,9 Z" fill="#000" stroke="none"/>
<ellipse cx="-38" cy="11" rx="3" ry="1.6" fill="#000" stroke="none"/>
<path d="M-32,-22.5 L-18,-23 L-15.5,-20 L-17.5,-20.5 L-17.5,-15.2 L-29,-14.3 L-30.5,-18 Z" fill="#fff" stroke-width="1.4"/>
<rect x="-24.5" y="-21.5" width="5.5" height="6" fill="#000" stroke="none"/>
<path d="M-19.4,-15 C-24.5,-11 -25.5,5 -21.4,10" fill="none" stroke-width="2"/>
<path d="M-10,-15.3 C-15.5,-10 -16.5,8 -12.7,12.7" fill="none" stroke-width="2"/>
<ellipse cx="0" cy="0" rx="7.3" ry="15.3" fill="#fff" stroke-width="2.3"/>
<ellipse cx="-3" cy="0.3" rx="3.8" ry="12.2" fill="none" stroke-width="2.2"/>
</g>
<g transform="translate(583.5 521.5)" stroke="#000">
<path d="M0,0 L2.8,4.4 L2.8,7 L-2.8,7 L-2.8,4.4 Z" fill="#fff" stroke-width="1.1"/>
<rect x="-2.85" y="6.9" width="5.7" height="26.2" fill="#000" stroke="none"/>
<path d="M-0.6,10 V31" stroke="#fff" stroke-width="0.9" stroke-dasharray="1.2 1.8" fill="none"/>
<rect x="-2.3" y="33.1" width="4.6" height="17.3" fill="#fff" stroke-width="1.3"/>
<ellipse cx="0" cy="52.5" rx="5" ry="2.7" fill="#000" stroke="none"/>
<ellipse cx="0" cy="52.3" rx="2" ry="0.8" fill="#666" stroke="none"/>
</g>
<g transform="translate(723.75 504.4)" stroke="#000">
<path d="M0,0 L2.8,4.4 L2.8,7 L-2.8,7 L-2.8,4.4 Z" fill="#fff" stroke-width="1.1"/>
<rect x="-2.85" y="6.9" width="5.7" height="26.2" fill="#000" stroke="none"/>
<path d="M-0.6,10 V31" stroke="#fff" stroke-width="0.9" stroke-dasharray="1.2 1.8" fill="none"/>
<rect x="-2.3" y="33.1" width="4.6" height="17.3" fill="#fff" stroke-width="1.3"/>
<ellipse cx="0" cy="52.5" rx="5" ry="2.7" fill="#000" stroke="none"/>
<ellipse cx="0" cy="52.3" rx="2" ry="0.8" fill="#666" stroke="none"/>
</g>
<g transform="translate(598.5 347.6)">
<rect x="-4.4" y="0" width="8.8" height="9.5" rx="2.8" fill="#000"/>
<path d="M-2.6,3 Q0,1.6 2.6,3 M-2.6,6.9 Q0,5.5 2.6,6.9" stroke="#fff" stroke-width="1.2" fill="none"/>
</g>
<g transform="translate(723.6 372.6)">
<rect x="-4.4" y="0" width="8.8" height="9.5" rx="2.8" fill="#000"/>
<path d="M-2.6,3 Q0,1.6 2.6,3 M-2.6,6.9 Q0,5.5 2.6,6.9" stroke="#fff" stroke-width="1.2" fill="none"/>
</g>
<clipPath id="pc4"><polygon points="394.3,716.2 600.65,634 892.9,691.9 686.55,774.1"/></clipPath>
<polygon points="394.3,707.2 600.65,625 892.9,682.9 892.9,691.9 686.55,774.1 394.3,716.2" fill="#fff" stroke="none"/>
<path d="M414.25 704.77L718.19 764.98M440.04 694.49L743.98 754.71M465.84 684.22L769.78 744.43M491.63 673.94L795.57 734.16M517.42 663.67L821.36 723.88M543.22 653.39L847.16 713.61M569.01 643.12L872.95 703.33M467.36 730.68L493.16 720.4M540.42 745.15L566.22 734.88M613.49 759.62L639.28 749.35M456.62 713.16L482.42 702.89M529.69 727.64L555.48 717.36M602.75 742.11L628.54 731.84M675.81 756.59L701.61 746.31M518.95 710.12L544.74 699.85M592.01 724.6L617.81 714.33M665.07 739.08L690.87 728.8M508.21 692.61L534.01 682.34M581.27 707.09L607.07 696.81M654.34 721.56L680.13 711.29M727.4 736.04L753.19 725.76M570.54 689.58L596.33 679.3M643.6 704.05L669.39 693.78M716.66 718.52L742.46 708.25M559.8 672.06L585.59 661.79M632.86 686.54L658.66 676.26M705.92 701.01L731.72 690.74M778.99 715.49L804.78 705.21M622.12 669.03L647.92 658.75M695.19 683.5L720.98 673.23M768.25 697.97L794.04 687.7M611.39 651.51L637.18 641.24M684.45 665.99L710.24 655.71M757.51 680.46L783.31 670.19M830.58 694.94L856.37 684.66" clip-path="url(#pc4)" fill="none" stroke="#111" stroke-width="0.95"/>
<path d="M394.3,716.2 L686.55,774.1 L892.9,691.9" fill="none" stroke="#000" stroke-width="1.25"/>
<path d="M394.3,716.2 L394.3,707.2 L600.65,625 L892.9,682.9 L892.9,691.9 M394.3,716.2 L600.65,634 L892.9,691.9 M600.65,625 L600.65,634" fill="none" stroke="#000" stroke-width="1.9" stroke-linejoin="round"/>
<path d="M494 705.5 A149 42.3 0 0 1 792 705.5 L792 720.5 A149 42.3 0 0 1 494 720.5 Z" fill="#fff" stroke="none"/>
<path d="M494 705.5 A149 42.3 0 0 1 792 705.5" fill="none" stroke="#000" stroke-width="1.5"/>
<path d="M494.5 705.5V720.5 M791.5 705.5V720.5" fill="none" stroke="#000" stroke-width="1.2"/>
<ellipse cx="643" cy="720.5" rx="149" ry="42.3" fill="none" stroke="#000" stroke-width="1.4"/>
<ellipse cx="643" cy="720.5" rx="110.5" ry="31" fill="none" stroke="#000" stroke-width="1.6"/>
<ellipse cx="643" cy="722.5" rx="102.5" ry="25" fill="none" stroke="#b8b8b8" stroke-width="0.7" stroke-dasharray="2 5"/>
<path d="M513 729.5H532.5" stroke="#c0c0c0" stroke-width="0.7" stroke-dasharray="2 5"/>
<ellipse cx="643.5" cy="713.5" rx="4.5" ry="1.8" fill="#000"/>
<ellipse cx="513" cy="728.25" rx="7.6" ry="3.6" fill="#fff" stroke="#000" stroke-width="1"/>
<ellipse cx="513" cy="729.75" rx="5.8" ry="2.3" fill="#fff" stroke="#000" stroke-width="1.3"/>
<ellipse cx="774" cy="715.5" rx="7.6" ry="3.6" fill="#fff" stroke="#000" stroke-width="1"/>
<ellipse cx="774" cy="717" rx="5.8" ry="2.3" fill="#fff" stroke="#000" stroke-width="1.3"/>
<ellipse cx="619" cy="684.5" rx="7.6" ry="3.6" fill="#fff" stroke="#000" stroke-width="1"/>
<ellipse cx="619" cy="686" rx="5.8" ry="2.3" fill="#fff" stroke="#000" stroke-width="1.3"/>
<ellipse cx="670" cy="758.5" rx="7.6" ry="3.6" fill="#fff" stroke="#000" stroke-width="1"/>
<ellipse cx="670" cy="760" rx="5.8" ry="2.3" fill="#fff" stroke="#000" stroke-width="1.3"/>
<g transform="translate(570 723)" stroke="#000" stroke-linejoin="round">
<path d="M-11.6,-15 C-11.6,-18 -9,-19 -6,-19 L6,-19 C9,-19 12.8,-18 12.8,-15 L15.2,7 C15.4,16 8,21.2 -0.2,21.2 C-8,21.2 -16.4,16 -16.2,7 Z" fill="#fff" stroke-width="1.8"/>
<path d="M-15.8,3 C-13,10.5 13,10.5 15,3 M-16.2,8 C-13,15.5 13,15.5 15.2,8 M-15.8,11 C-12,18.5 12,18.5 15,11" fill="none" stroke-width="1.2"/>
<path d="M-11.6,-15 C-11.6,-18 -9,-19 -6,-19 L6,-19 C9,-19 12.8,-18 12.8,-15 L13,-4 C12,1.2 6,1.6 0.5,1.6 C-5,1.6 -11,1.2 -12,-4 Z" fill="#000" stroke-width="1"/>
<path d="M-8,-12.5 L-4.5,-15 L-4.5,-10 Z M9,-12.5 L5.5,-15 L5.5,-10 Z M-10,-6 L-5,-8.5 L-5,-3.5 Z M11,-6 L6,-8.5 L6,-3.5 Z" fill="#fff" stroke="none"/>
<path d="M-9.5,-3 C-8,3 8,3 10,-3" fill="none" stroke="#fff" stroke-width="0.8"/>
<rect x="-4.6" y="-27" width="9.9" height="25" fill="#000" stroke="none"/>
<rect x="-2" y="-27" width="5.9" height="23.5" fill="#fff" stroke="none"/>
</g>
<path d="M598.8,692 V711 M584,736 V754" stroke="#000" stroke-width="1.5" fill="none"/>
<ellipse cx="598.8" cy="692" rx="3.6" ry="1.4" fill="#000"/>
<ellipse cx="584" cy="736.5" rx="3" ry="1.3" fill="#000"/>
<g transform="translate(701.7 723.7) scale(-1 1)" stroke="#000" stroke-linejoin="round">
<path d="M0,-15.6 L-19.4,-15 L-31,-14 L-31,8 L-21.4,10 L-5.7,15.3 Z" fill="#fff" stroke-width="1.3"/>
<path d="M-31,-14 L-37,-11 L-36,-8 L-39,-6 L-38.5,-2 L-40,0 L-39,3 L-40,6 L-38,8.5 L-40.5,10.5 L-36,11.5 L-31,8 Z" fill="#fff" stroke-width="1.5"/>
<path d="M-37.5,-9 L-33.5,-10 L-33.5,-6 L-37.5,-5.5 Z M-39,-1 L-34.5,-1.5 L-34.5,2 L-39,2.5 Z M-39,5 L-34.5,4.5 L-34.5,8 L-38.5,9 Z" fill="#000" stroke="none"/>
<ellipse cx="-38" cy="11" rx="3" ry="1.6" fill="#000" stroke="none"/>
<path d="M-32,-22.5 L-18,-23 L-15.5,-20 L-17.5,-20.5 L-17.5,-15.2 L-29,-14.3 L-30.5,-18 Z" fill="#fff" stroke-width="1.4"/>
<rect x="-24.5" y="-21.5" width="5.5" height="6" fill="#000" stroke="none"/>
<path d="M-19.4,-15 C-24.5,-11 -25.5,5 -21.4,10" fill="none" stroke-width="2"/>
<path d="M-10,-15.3 C-15.5,-10 -16.5,8 -12.7,12.7" fill="none" stroke-width="2"/>
<ellipse cx="0" cy="0" rx="7.3" ry="15.3" fill="#fff" stroke-width="2.3"/>
<ellipse cx="-3" cy="0.3" rx="3.8" ry="12.2" fill="none" stroke-width="2.2"/>
</g>
<g transform="translate(657.7 760)" stroke="#000" stroke-linejoin="round">
<path d="M0,-15.6 L-19.4,-15 L-31,-14 L-31,8 L-21.4,10 L-5.7,15.3 Z" fill="#fff" stroke-width="1.3"/>
<path d="M-31,-14 L-37,-11 L-36,-8 L-39,-6 L-38.5,-2 L-40,0 L-39,3 L-40,6 L-38,8.5 L-40.5,10.5 L-36,11.5 L-31,8 Z" fill="#fff" stroke-width="1.5"/>
<path d="M-37.5,-9 L-33.5,-10 L-33.5,-6 L-37.5,-5.5 Z M-39,-1 L-34.5,-1.5 L-34.5,2 L-39,2.5 Z M-39,5 L-34.5,4.5 L-34.5,8 L-38.5,9 Z" fill="#000" stroke="none"/>
<ellipse cx="-38" cy="11" rx="3" ry="1.6" fill="#000" stroke="none"/>
<path d="M-32,-22.5 L-18,-23 L-15.5,-20 L-17.5,-20.5 L-17.5,-15.2 L-29,-14.3 L-30.5,-18 Z" fill="#fff" stroke-width="1.4"/>
<rect x="-24.5" y="-21.5" width="5.5" height="6" fill="#000" stroke="none"/>
<path d="M-19.4,-15 C-24.5,-11 -25.5,5 -21.4,10" fill="none" stroke-width="2"/>
<path d="M-10,-15.3 C-15.5,-10 -16.5,8 -12.7,12.7" fill="none" stroke-width="2"/>
<ellipse cx="0" cy="0" rx="7.3" ry="15.3" fill="#fff" stroke-width="2.3"/>
<ellipse cx="-3" cy="0.3" rx="3.8" ry="12.2" fill="none" stroke-width="2.2"/>
</g>
<path d="M621.4,686 V768 M774.2,717 V761" stroke="#000" stroke-width="1.4" fill="none"/>
<polygon points="405.7,779 819,758.75 940.5,933.5 697.75,1030.25 355.5,962" fill="#fff" stroke="none"/>
<path d="M405.7,779 L819,758.75 L940.5,933.5 L697.75,1030.25 L355.5,962 Z" fill="none" stroke="#000" stroke-width="1.3" stroke-linejoin="round"/>
<path d="M355.5,962 L598,865.5 L940.5,933.5" fill="none" stroke="#000" stroke-width="1.2"/>
<path d="M405.7,779 L598,865.5 L819,758.75" fill="none" stroke="#000" stroke-width="2" stroke-linejoin="round"/>
<path d="M405.7,779 L819,758.75" fill="none" stroke="#000" stroke-width="1.7"/>
</svg>
</body></html>
